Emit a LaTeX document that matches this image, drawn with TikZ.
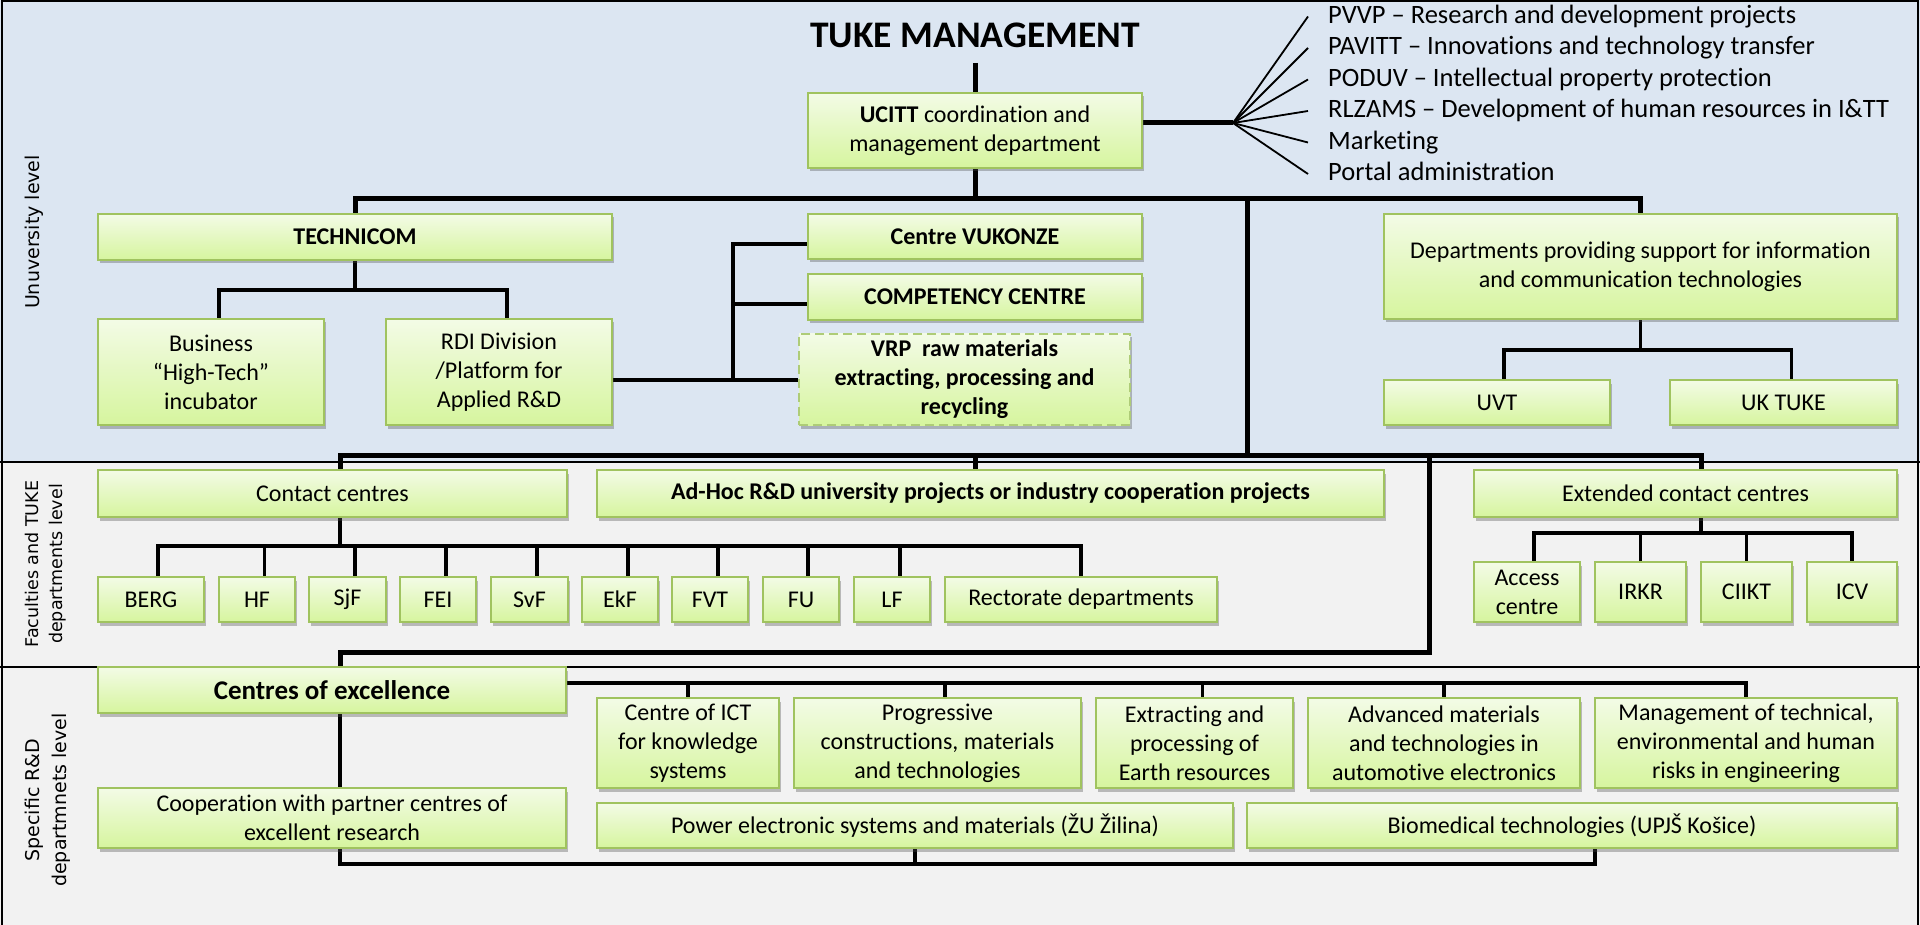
\documentclass[tikz,border=0pt]{standalone}
\usepackage{fontspec}
\setmainfont{Carlito}[Ligatures=NoCommon]
\newfontfamily\sidefont{DejaVu Sans}
\usetikzlibrary{shadows}
\pgfdeclarelayer{bands}
\pgfdeclarelayer{lines}
\pgfsetlayers{bands,lines,main}
\definecolor{bandblue}{RGB}{220,230,242}
\definecolor{bandgray}{RGB}{242,242,242}
\definecolor{boxborder}{RGB}{160,195,95}
\definecolor{boxtop}{RGB}{243,251,230}
\definecolor{boxbot}{RGB}{214,245,158}
\tikzset{
  box/.style={draw=boxborder, line width=1.8pt, top color=boxtop, bottom color=boxbot,
    inner sep=0pt, align=center, font=\fontsize{24}{29}\selectfont,
    drop shadow={shadow xshift=2pt, shadow yshift=-3.5pt, opacity=0.35, fill=black!70}},
  dashbox/.style={dash pattern=on 9pt off 5pt, draw=boxborder!85},
  mainline/.style={line width=5pt, line join=miter},
  subline/.style={line width=3.8pt, line join=miter},
  fanline/.style={line width=1.8pt},
  listtext/.style={anchor=west, inner sep=0pt, font=\fontsize{26.5}{31}\selectfont, text height=19pt, text depth=5.5pt},
  sidelabel/.style={rotate=90, align=center, inner sep=0pt},
}
\newcommand\bx[7][]{%
  \pgfmathsetmacro\bxw{#5-#3}%
  \pgfmathsetmacro\bxh{#6-#4}%
  \pgfmathsetmacro\bxx{(#3+#5)/2}%
  \pgfmathsetmacro\bxy{(#4+#6)/2}%
  \node[box,minimum width=\bxw pt,minimum height=\bxh pt,#1] (#2) at (\bxx,\bxy) {#7};%
}
\begin{document}
\begin{tikzpicture}[x=1pt,y=-1pt]
\useasboundingbox (0,0) rectangle (1920,925);
\begin{pgfonlayer}{bands}
\fill[bandblue] (0,0) rectangle (1920,462);
\fill[bandgray] (0,462) rectangle (1920,925);
\draw[line width=2pt] (0,462) -- (1920,462);
\draw[line width=2pt] (0,667) -- (1920,667);
\draw[line width=2pt] (1.5,925) -- (1.5,1.5) -- (1918,1.5) -- (1918,925);
\end{pgfonlayer}

% side labels
\node[sidelabel, font=\sidefont\fontsize{19}{23}\selectfont] (lu) at (34,232) {Unuversity level};
\node[sidelabel, font=\sidefont\fontsize{17.5}{24}\selectfont] (lf) at (46,564) {Faculties and TUKE\\departments level};
\node[sidelabel, font=\sidefont\fontsize{19}{27}\selectfont] (ls) at (47.5,800) {Specific R\&D\\departmnets level};

% title and list
\node[font=\bfseries\fontsize{37.5}{42}\selectfont, inner sep=0pt] (title) at (975,35) {TUKE MANAGEMENT};
\node[listtext] (l1) at (1328,16.5) {PVVP – Research and development projects};
\node[listtext] (l2) at (1328,48) {PAVITT – Innovations and technology transfer};
\node[listtext] (l3) at (1328,79.5) {PODUV – Intellectual property protection};
\node[listtext] (l4) at (1328,111) {RLZAMS – Development of human resources in I\&TT};
\node[listtext] (l5) at (1328,142.5) {Marketing};
\node[listtext] (l6) at (1328,174) {Portal administration};

% university level boxes
\bx{ucitt}{808}{93}{1142}{168}{\textbf{UCITT} coordination and\\management department}
\bx{technicom}{98}{214}{612}{260}{\textbf{TECHNICOM}}
\bx{business}{98}{319}{324}{425}{Business\\“High-Tech”\\incubator}
\bx{rdi}{386}{319}{612}{425}{RDI Division\\/Platform for\\Applied R\&D}
\bx{vukonze}{808}{214}{1142}{259}{\textbf{Centre VUKONZE}}
\bx{competency}{808}{274}{1142}{320}{\textbf{COMPETENCY CENTRE}}
\bx[dashbox]{vrp}{799}{334}{1130}{425}{\textbf{VRP\ \ raw materials}\\\textbf{extracting, processing and}\\\textbf{recycling}}
\bx{depts}{1384}{214}{1897}{319}{Departments providing support for information\\and communication technologies}
\bx{uvt}{1384}{380}{1610}{425}{UVT}
\bx{uktuke}{1670}{380}{1897}{425}{UK TUKE}

% faculties level
\bx{contact}{98}{470}{567}{517}{Contact centres}
\bx{adhoc}{597}{470}{1384}{517}{\textbf{Ad-Hoc R\&D university projects or industry cooperation projects}}
\bx{extcontact}{1474}{470}{1897}{517}{Extended contact centres}
\bx{berg}{98}{577}{204}{622}{BERG}
\bx{hf}{219}{577}{295}{622}{HF}
\bx{sjf}{309}{577}{386}{622}{SjF}
\bx{fei}{400}{577}{476}{622}{FEI}
\bx{svf}{491}{577}{568}{622}{SvF}
\bx{ekf}{582}{577}{658}{622}{EkF}
\bx{fvt}{672}{577}{748}{622}{FVT}
\bx{fu}{763}{577}{839}{622}{FU}
\bx{lf}{854}{577}{930}{622}{LF}
\bx{rect}{945}{577}{1217}{622}{Rectorate departments}
\bx{access}{1474}{562}{1580}{622}{Access\\centre}
\bx{irkr}{1595}{562}{1686}{622}{IRKR}
\bx{ciikt}{1701}{562}{1792}{622}{CIIKT}
\bx{icv}{1807}{562}{1897}{622}{ICV}

% specific R&D level
\bx[font=\bfseries\fontsize{27}{32}\selectfont]{coe}{98}{667}{566}{713}{Centres of excellence}
\bx{ict}{597}{698}{779}{788}{Centre of ICT\\for knowledge\\systems}
\bx{progr}{794}{698}{1081}{788}{Progressive\\constructions, materials\\and technologies}
\bx{extr}{1096}{698}{1293}{788}{Extracting and\\processing of\\Earth resources}
\bx{adv}{1308}{698}{1580}{788}{Advanced materials\\and technologies in\\automotive electronics}
\bx{mgmt}{1595}{698}{1897}{788}{Management of technical,\\environmental and human\\risks in engineering}
\bx{coop}{98}{788}{566}{848}{Cooperation with partner centres of\\excellent research}
\bx{power}{597}{803}{1233}{848}{Power electronic systems and materials (ŽU Žilina)}
\bx{bio}{1247}{803}{1897}{848}{Biomedical technologies (UPJŠ Košice)}

% connectors
\begin{pgfonlayer}{lines}
\coordinate (tb) at (975,63);
\coordinate (b1) at (975,199);
\coordinate (b2) at (975,455);
\coordinate (v1) at (1247,455);
\coordinate (r1) at (1429,455);
\coordinate (r2) at (1429,652);
\coordinate (fanc) at (1233,123);
\draw[mainline] (tb) -- (ucitt.north);
\draw[mainline] (ucitt.south) -- (b1);
\draw[mainline] (technicom.north) -- (technicom.north |- b1) -- (depts.north |- b1) -- (depts.north);
\draw[mainline] (v1 |- b1) -- (v1);
% fan
\draw[mainline] (ucitt.east |- fanc) -- (fanc);
\foreach \i in {1,...,6} \draw[fanline] (fanc) -- ([xshift=-20pt]l\i.west);
% technicom
\coordinate (busn) at ([xshift=8pt]business.north);
\coordinate (rdin) at ([xshift=8pt]rdi.north);
\draw[subline] (technicom.south) -- ++(0,29) coordinate (tj);
\draw[subline] (busn) |- (tj) -| (rdin);
% vrp bracket
\coordinate (bk) at (733,380);
\coordinate (bk1) at (733,244);
\coordinate (bk2) at (733,304);
\draw[subline] (rdi.east |- bk) -- (bk -| vrp.west);
\draw[subline] (bk) -- (bk1) -- (bk1 -| vukonze.west);
\draw[subline] (bk2) -- (bk2 -| competency.west);
% depts
\coordinate (uvtn) at ([xshift=7pt]uvt.north);
\coordinate (uktn) at ([xshift=8pt]uktuke.north);
\draw[subline] (depts.south) -- ++(0,30) coordinate (dj);
\draw[subline] (uvtn) |- (dj) -| (uktn);
% bus 2
\coordinate (ccn) at ([xshift=7.5pt]contact.north);
\coordinate (ecn) at ([xshift=15.5pt]extcontact.north);
\draw[mainline] (ccn) -- (ccn |- b2) -- (ecn |- b2) -- (ecn);
\draw[mainline] (b2) -- (b2 |- adhoc.north);
\coordinate (coen) at ([xshift=8pt]coe.north);
\draw[mainline] (r1) -- (r2) -- (coen |- r2) -- (coen);
% contact centres
\coordinate (ccs) at ([xshift=7.5pt]contact.south);
\draw[subline] (ccs) -- ++(0,28) coordinate (cj);
\coordinate (bergn) at ([xshift=7pt]berg.north);
\draw[subline] (bergn) |- (cj) -| (rect.north);
\foreach \n/\s in {hf/7.5,sjf/7.5,fei/8,svf/7.5,ekf/8,fvt/8,fu/7,lf/8}
  \draw[subline] ([xshift=\s pt]\n.north) -- ++(0,-32);
% extended contact
\coordinate (ecs) at ([xshift=15.5pt]extcontact.south);
\draw[subline] (ecs) -- ++(0,15) coordinate (ej);
\coordinate (accn) at ([xshift=7pt]access.north);
\draw[subline] (accn) |- (ej) -| (icv.north);
\draw[subline] (irkr.north) -- (irkr.north |- ej);
\draw[subline] (ciikt.north) -- (ciikt.north |- ej);
% centres of excellence
\coordinate (ceb) at ([yshift=7pt]coe.east);
\draw[subline] (ceb) -| (mgmt.north);
\draw[subline] (ict.north) -- (ict.north |- ceb);
\draw[subline] ([xshift=7.5pt]progr.north) -- ++(0,-15);
\draw[subline] ([xshift=8pt]extr.north) -- ++(0,-15);
\draw[subline] (adv.north) -- (adv.north |- ceb);
\coordinate (coes) at ([xshift=8pt]coe.south);
\coordinate (coopn) at ([xshift=8pt]coop.north);
\draw[subline] (coes) -- (coopn);
\coordinate (coops) at ([xshift=8pt]coop.south);
\coordinate (bios) at ([xshift=23pt]bio.south);
\draw[subline] (coops) -- ++(0,15) -| (bios);
\draw[subline] (power.south) -- ++(0,15);
\end{pgfonlayer}
\end{tikzpicture}
\end{document}
